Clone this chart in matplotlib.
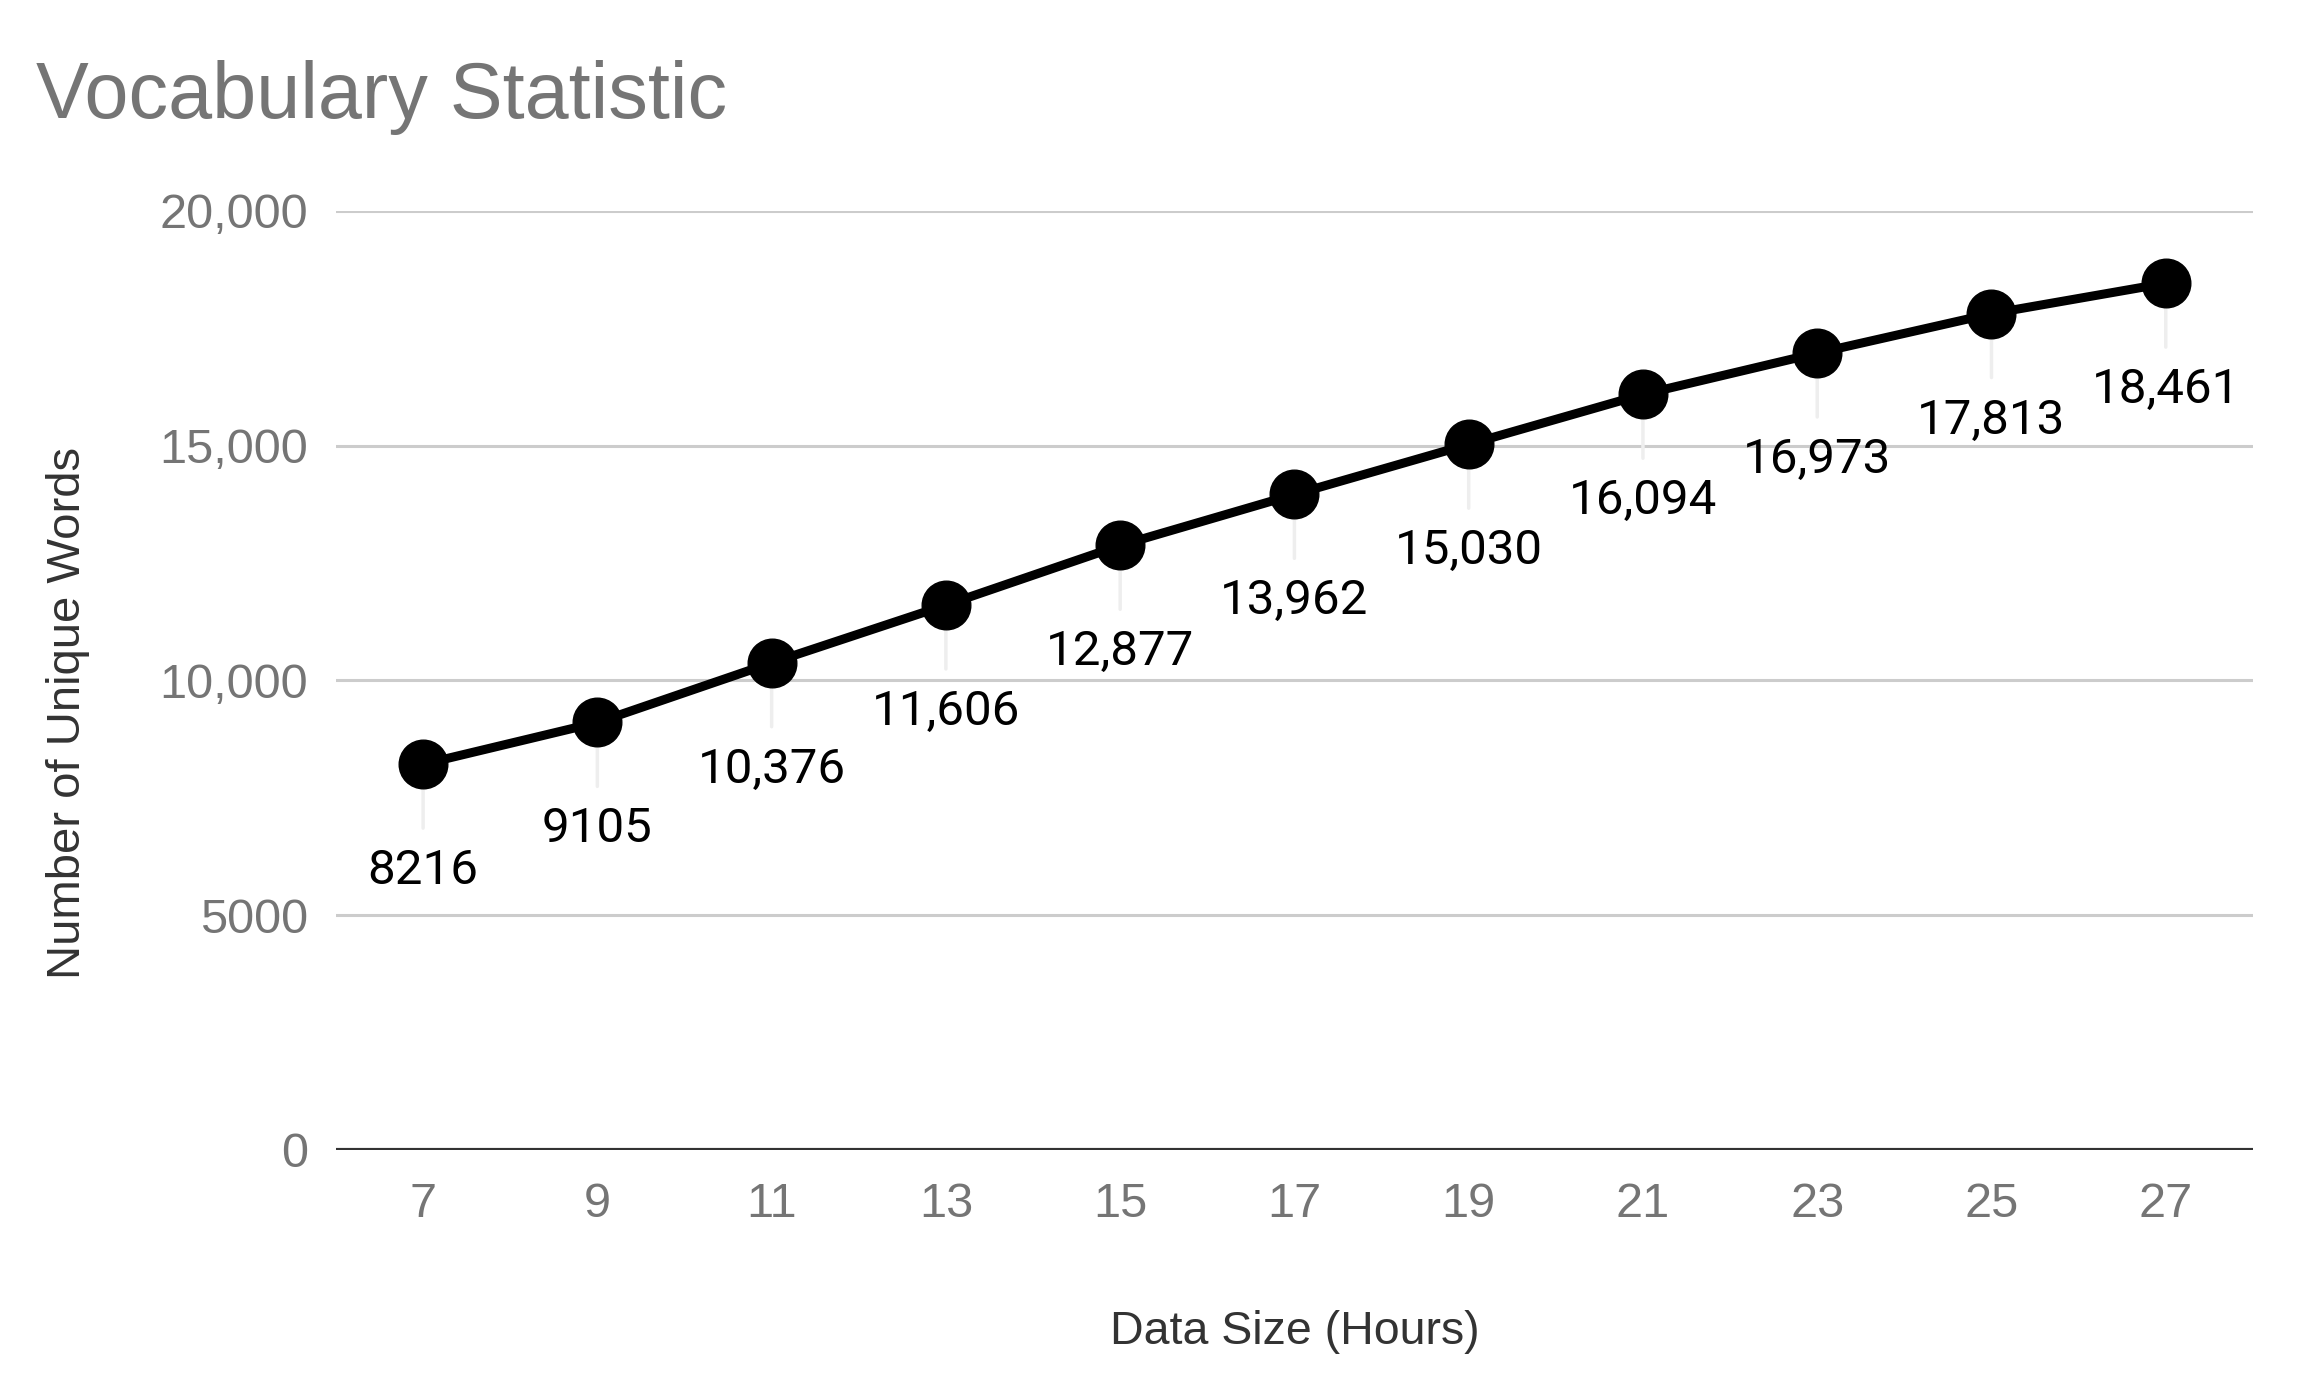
import matplotlib
matplotlib.use("Agg")
import matplotlib.pyplot as plt

# data
hours = [7, 9, 11, 13, 15, 17, 19, 21, 23, 25, 27]
unique_words = [8216, 9105, 10376, 11606, 12877, 13962, 15030, 16094, 16973, 17813, 18461]
y_ticks = [0, 5000, 10000, 15000, 20000]
y_tick_labels = ["0", "5000", "10,000", "15,000", "20,000"]

GREY = "#757575"
SANS = "Liberation Sans"

fig = plt.figure(figsize=(23.09, 13.88), dpi=100)
ax = fig.add_axes([0.1455, 0.1715, 0.8302, 0.6765])

# grid + zero line
for t in y_ticks[1:]:
    ax.axhline(t, color="#cccccc", lw=2.2, zorder=0)
ax.axhline(0, color="#333333", lw=3, zorder=1)

ax.plot(hours, unique_words, color="black", lw=6.5, marker="o", markersize=35,
        zorder=3, solid_capstyle="round")

# data labels with light leader lines
for x, v in zip(hours, unique_words):
    txt = f"{v:,}" if v >= 10000 else str(v)
    ax.annotate("", xy=(x, v), xytext=(0, -46), textcoords="offset points",
                arrowprops=dict(arrowstyle="-", color="#eeeeee", lw=2.5,
                                shrinkA=0, shrinkB=18), zorder=2)
    ax.annotate(txt, xy=(x, v), xytext=(0, -77), textcoords="offset points",
                ha="center", va="center", fontsize=35.5, family="Roboto",
                color="black", zorder=4)

ax.set_xlim(6, 28)
ax.set_ylim(0, 20000)
ax.set_xticks(hours)
ax.set_xticklabels([str(h) for h in hours])
ax.set_yticks(y_ticks)
ax.set_yticklabels(y_tick_labels)
ax.tick_params(length=0, labelsize=35, labelcolor=GREY, pad=20)
ax.tick_params(axis="x", pad=23)
for lab in ax.get_xticklabels() + ax.get_yticklabels():
    lab.set_family(SANS)
for s in ax.spines.values():
    s.set_visible(False)

ax.set_xlabel("Data Size (Hours)", fontsize=33.5, color="#333333", family=SANS, labelpad=60)
ax.set_ylabel("Number of Unique Words", fontsize=34, color="#333333", family=SANS,
              labelpad=50, y=0.465)

fig.text(0.0155, 0.957, "Vocabulary Statistic", fontsize=57, color=GREY,
         family=SANS, ha="left", va="top")

fig.savefig("out.png", dpi=100)
